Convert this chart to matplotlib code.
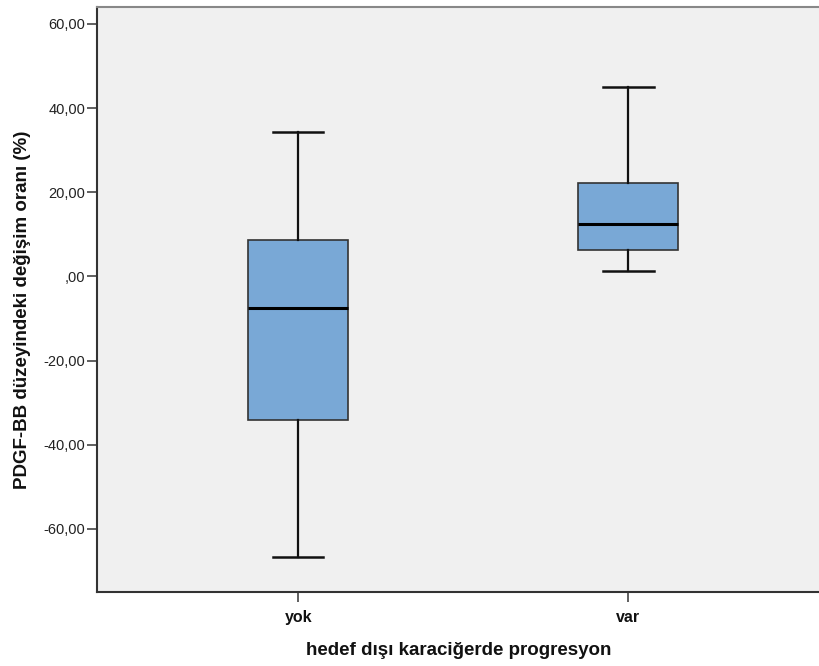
import matplotlib.pyplot as plt

plt.rcParams['font.family'] = ['Liberation Sans', 'DejaVu Sans']

# group names and box statistics (percent change)
groups = ["yok", "var"]
whisker_low = [-66.7, 1.2]
q1 = [-34.2, 6.2]
medians = [-7.6, 12.35]
q3 = [8.55, 22.1]
whisker_high = [34.4, 44.9]

y_ticks = [-60, -40, -20, 0, 20, 40, 60]
y_tick_labels = ["-60,00", "-40,00", "-20,00", ",00", "20,00", "40,00", "60,00"]

stats = [
    dict(label=g, whislo=lo, q1=a, med=m, q3=b, whishi=hi, fliers=[])
    for g, lo, a, m, b, hi in zip(groups, whisker_low, q1, medians, q3, whisker_high)
]

fig = plt.figure(figsize=(8.2, 6.66), dpi=100)
ax = fig.add_axes([0.1183, 0.111, 0.8817, 0.8784])
ax.set_facecolor('#f0f0f0')

ax.bxp(
    stats, positions=[1, 2], widths=0.303, patch_artist=True,
    boxprops=dict(facecolor='#79a8d6', edgecolor='#333333', linewidth=1.2),
    medianprops=dict(color='#000000', linewidth=2.2),
    whiskerprops=dict(color='#111111', linewidth=1.6),
    capprops=dict(color='#111111', linewidth=1.8),
    capwidths=0.152,
)

ax.set_xlim(0.391, 2.58)
ax.set_ylim(-75.0, 64.0)
ax.set_yticks(y_ticks)
ax.set_yticklabels(y_tick_labels)
ax.set_xticks([1, 2])
ax.set_xticklabels(groups, fontweight='bold')

ax.tick_params(axis='y', direction='out', length=7, width=1.2, color='#444444',
               labelsize=10.5, labelcolor='#222222', pad=1.5)
ax.tick_params(axis='x', direction='out', length=7, width=1.2, color='#444444',
               labelsize=11.5, labelcolor='#111111', pad=6)

ax.spines['right'].set_visible(False)
ax.spines['top'].set_color('#888888')
ax.spines['top'].set_linewidth(1.5)
for s in ('left', 'bottom'):
    ax.spines[s].set_color('#333333')
    ax.spines[s].set_linewidth(1.5)

ax.set_ylabel("PDGF-BB düzeyindeki değişim oranı (%)", fontsize=13.5,
              fontweight='bold', color='#111111')
ax.yaxis.set_label_coords(-0.0917, 0.483)
ax.set_xlabel("hedef dışı karaciğerde progresyon", fontsize=13.5,
              fontweight='bold', color='#111111', labelpad=12)

fig.savefig('out.png', dpi=100)
